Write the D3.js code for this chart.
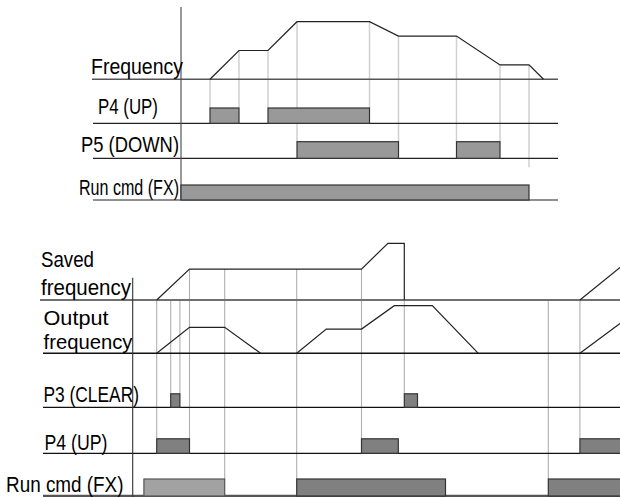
<!DOCTYPE html>
<html><head><meta charset="utf-8">
<script src="https://cdn.jsdelivr.net/npm/d3@7"></script>
<style>html,body{margin:0;padding:0;background:#fff;} svg{display:block;font-family:"Liberation Sans","Open Sans",sans-serif;}</style>
</head><body>
<svg id="c" width="620" height="497"></svg>
<script>
// ================= DATA =================
// Top diagram: time units, frequency levels
const topFreq = [[1,0],[2,2],[3,2],[4,4],[6.5,4],[7.5,3],[9.5,3],[11,1],[12,1],[12.5,0]];
const topP4 = [[1,2],[3,6.5]];
const topP5 = [[4,7.5],[9.5,11]];
const topRun = [[0,12]];
const topGuides = [
  {t:1, f:0, to:"P4"}, {t:2, f:2, to:"P4"}, {t:3, f:2, to:"P4"},
  {t:4, f:4, to:"P5"}, {t:6.5, f:4, to:"P4"}, {t:7.5, f:3, to:"P5"},
  {t:9.5, f:3, to:"P5"}, {t:11, f:1, to:"P5"}, {t:12, f:1, to:"gap"}
];
const topLabels = ["Frequency", "P4 (UP)", "P5 (DOWN)", "Run cmd (FX)"];

// Bottom diagram: time units, frequency (Hz-like)
const savedFreq = [
  [[3,0],[7.1,30],[28.6,30],[31.9,55],[33.95,55],[33.95,0]],
  [[55.9,0],[61,32]]
];
const outFreq = [
  [[3,0],[7.1,30],[11.5,30],[16,0]],
  [[20.5,0],[24.2,28],[28.6,28],[32.7,55],[37.45,55],[43.2,0]],
  [[55.9,0],[61,35]]
];
const botP3 = [[4.75,5.9],[33.95,35.6]];
const botP4 = [[3,7.1],[28.6,33.2],[55.9,62]];
const botRun = [[1.4,11.5],[20.5,39.1],[51.95,62]];
const botGuides = [
  {t:3, f:0, to:"P4"}, {t:4.75, f:0, to:"P3"}, {t:5.9, f:0, to:"P3"},
  {t:7.1, f:30, to:"P4"}, {t:11.5, f:30, to:"Run"}, {t:20.5, f:30, to:"Run"},
  {t:28.6, f:30, to:"P4"}, {t:33.95, f:0, to:"P3"}, {t:51.95, f:0, to:"Run"},
  {t:55.9, f:0, to:"P4"}
];
const botLabels = ["Saved", "frequency", "Output", "frequency", "P3 (CLEAR)", "P4 (UP)", "Run cmd (FX)"];

// ================= DRAW =================
const svg = d3.select("#c");

// ---------- top ----------
const xT = d3.scaleLinear().domain([0,13]).range([181,558]);
const yTF = d3.scaleLinear().domain([0,4]).range([79.3,21.7]);
const topRows = {P4:{base:123.3,h:15.3}, P5:{base:158.3,h:16.6}, Run:{base:200,h:15}};
const topBarTop = k => k==="gap" ? topRows.P5.base + 9 : topRows[k].base - topRows[k].h;

const gT = svg.append("g");
gT.selectAll("line.guide").data(topGuides).join("line")
  .attr("x1", d=>xT(d.t)).attr("x2", d=>xT(d.t))
  .attr("y1", d=>yTF(d.f)).attr("y2", d=>topBarTop(d.to))
  .attr("stroke","#d0d0d0").attr("stroke-width",1.5);

gT.append("line").attr("x1",92).attr("x2",xT(13)).attr("y1",yTF(0)).attr("y2",yTF(0))
  .attr("stroke","#555").attr("stroke-width",1.5);
Object.values(topRows).forEach(r=>{
  gT.append("line").attr("x1",93).attr("x2",xT(13)).attr("y1",r.base).attr("y2",r.base)
    .attr("stroke","#222").attr("stroke-width",1.2);
});
gT.append("line").attr("x1",xT(0)).attr("x2",xT(0)).attr("y1",7).attr("y2",200)
  .attr("stroke","#555").attr("stroke-width",1.2);

const lineT = d3.line().x(d=>xT(d[0])).y(d=>yTF(d[1]));
gT.append("path").attr("d",lineT(topFreq)).attr("fill","none").attr("stroke","#222").attr("stroke-width",1.2);

function barsTop(data,row){
  const r = topRows[row];
  gT.selectAll(null).data(data).join("rect")
    .attr("x",d=>xT(d[0])).attr("width",d=>xT(d[1])-xT(d[0]))
    .attr("y",r.base-r.h).attr("height",r.h)
    .attr("fill","#999").attr("stroke","#333").attr("stroke-width",1.2);
}
barsTop(topP4,"P4"); barsTop(topP5,"P5"); barsTop(topRun,"Run");

const topLabelPos = [
  {x:91, y:74, w:92, s:22}, {x:98, y:113.5, w:60, s:22}, {x:81, y:151.5, w:98, s:22}, {x:79, y:195, w:100, s:22}
];
gT.selectAll("text").data(topLabels).join("text")
  .attr("x",(d,i)=>topLabelPos[i].x).attr("y",(d,i)=>topLabelPos[i].y)
  .attr("textLength",(d,i)=>topLabelPos[i].w).attr("lengthAdjust","spacingAndGlyphs")
  .attr("font-size",(d,i)=>topLabelPos[i].s).attr("fill","#000").text(d=>d);

// ---------- bottom ----------
const xB = d3.scaleLinear().domain([0,61]).range([132.7,620.7]);
const ySav = d3.scaleLinear().domain([0,55]).range([300,243.3]);
const yOut = d3.scaleLinear().domain([0,55]).range([353.3,305.7]);
const botRows = {P3:{base:407.3,h:13.5}, P4:{base:453.3,h:14.5}, Run:{base:496,h:17}};

const gB = svg.append("g");
gB.selectAll("line.guide").data(botGuides).join("line")
  .attr("x1", d=>xB(d.t)).attr("x2", d=>xB(d.t))
  .attr("y1", d=>ySav(d.f)).attr("y2", d=>botRows[d.to].base-botRows[d.to].h)
  .attr("stroke","#b0b0b0").attr("stroke-width",1.1);

gB.append("line").attr("x1",40).attr("x2",620).attr("y1",ySav(0)).attr("y2",ySav(0))
  .attr("stroke","#707070").attr("stroke-width",2);
gB.append("line").attr("x1",43).attr("x2",620).attr("y1",yOut(0)).attr("y2",yOut(0))
  .attr("stroke","#111").attr("stroke-width",1.4);
gB.append("line").attr("x1",43).attr("x2",620).attr("y1",botRows.P3.base).attr("y2",botRows.P3.base)
  .attr("stroke","#111").attr("stroke-width",1.3);
gB.append("line").attr("x1",43).attr("x2",620).attr("y1",botRows.P4.base).attr("y2",botRows.P4.base)
  .attr("stroke","#111").attr("stroke-width",1.3);
gB.append("line").attr("x1",43).attr("x2",620).attr("y1",botRows.Run.base).attr("y2",botRows.Run.base)
  .attr("stroke","#555").attr("stroke-width",2.5);
gB.append("line").attr("x1",xB(0)).attr("x2",xB(0)).attr("y1",277.7).attr("y2",497)
  .attr("stroke","#333").attr("stroke-width",1.1);

const lineS = d3.line().x(d=>xB(d[0])).y(d=>ySav(d[1]));
const lineO = d3.line().x(d=>xB(d[0])).y(d=>yOut(d[1]));
gB.selectAll("path.sav").data(savedFreq).join("path").attr("class","sav")
  .attr("d",lineS).attr("fill","none").attr("stroke","#222").attr("stroke-width",1.2);
gB.selectAll("path.out").data(outFreq).join("path").attr("class","out")
  .attr("d",lineO).attr("fill","none").attr("stroke","#222").attr("stroke-width",1.2);

function barsBot(data,row){
  const r = botRows[row];
  gB.selectAll(null).data(data).join("rect")
    .attr("x",d=>xB(d[0])).attr("width",d=>xB(d[1])-xB(d[0]))
    .attr("y",r.base-r.h).attr("height",r.h)
    .attr("fill",(d,i)=> row==="Run" && i===0 ? "#a2a2a2" : "#808080")
    .attr("stroke",(d,i)=> row==="Run" && i===0 ? "#555" : "#333").attr("stroke-width",1.2);
}
barsBot(botP3,"P3"); barsBot(botP4,"P4"); barsBot(botRun,"Run");

const botLabelPos = [
  {x:41, y:266.7, w:53, s:22}, {x:41, y:295, w:90, s:22}, {x:43.5, y:325, w:65, s:21}, {x:43.5, y:348.5, w:89, s:21},
  {x:43.5, y:401.7, w:95.5, s:22}, {x:44.5, y:449.5, w:63, s:22}, {x:6, y:491.7, w:117.5, s:22}
];
gB.selectAll("text").data(botLabels).join("text")
  .attr("x",(d,i)=>botLabelPos[i].x).attr("y",(d,i)=>botLabelPos[i].y)
  .attr("textLength",(d,i)=>botLabelPos[i].w).attr("lengthAdjust","spacingAndGlyphs")
  .attr("font-size",(d,i)=>botLabelPos[i].s).attr("fill","#000").text(d=>d);
</script>
</body></html>
